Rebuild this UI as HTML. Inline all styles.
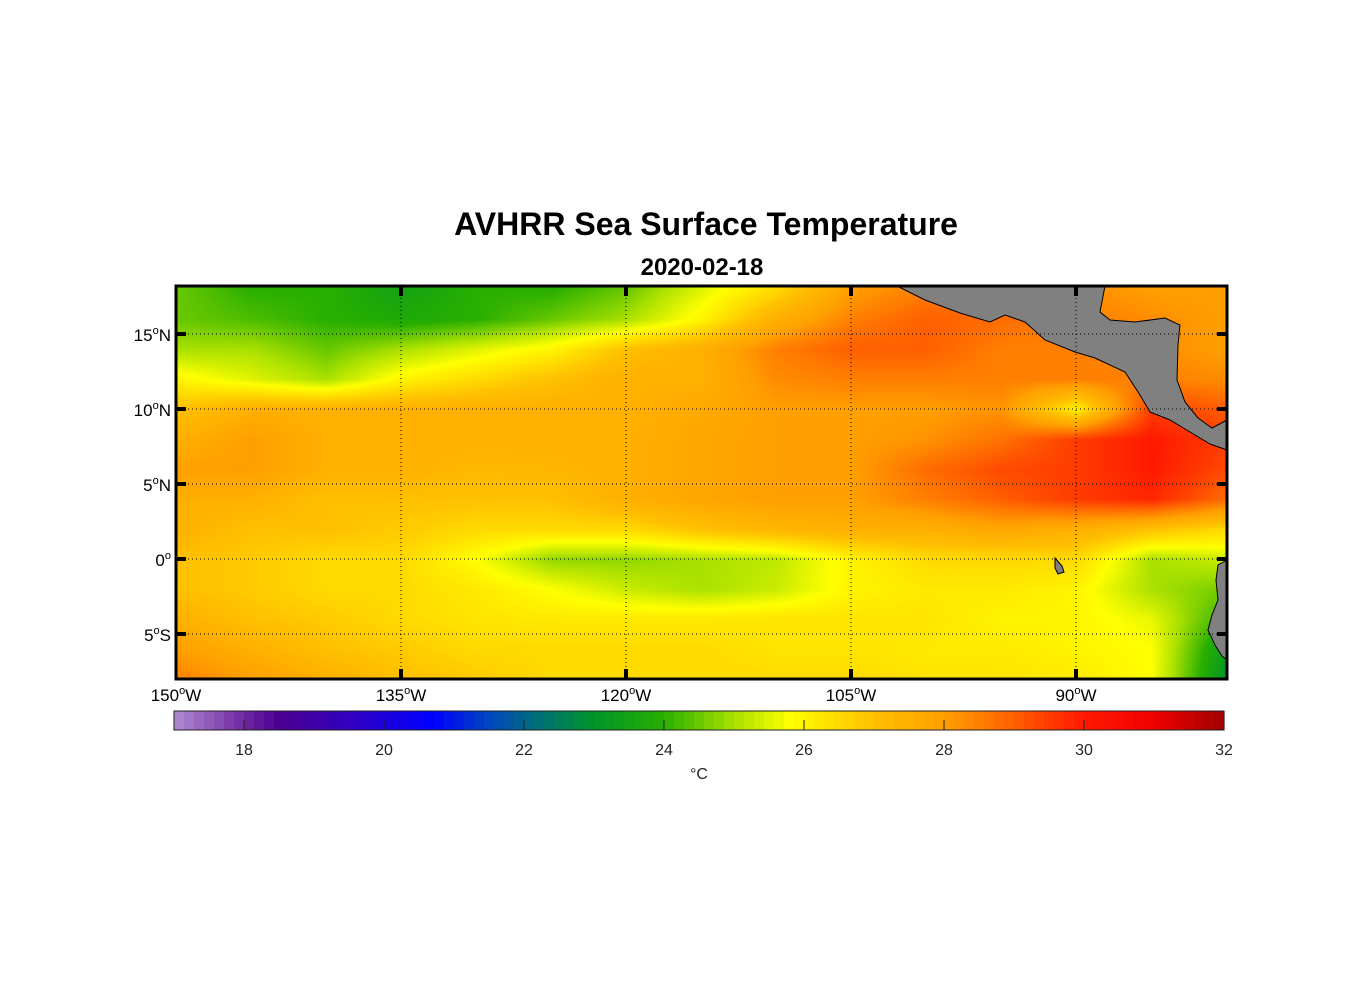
<!DOCTYPE html>
<html><head><meta charset="utf-8"><style>
html,body{margin:0;padding:0;background:#fff;width:1356px;height:1000px;overflow:hidden;font-family:"Liberation Sans",Arial,sans-serif}
#wrap{position:relative;width:1356px;height:1000px}
canvas{position:absolute}
svg{position:absolute;left:0;top:0}
</style></head><body>
<div id="wrap">
<canvas id="map" width="1051" height="393" style="left:176px;top:286px"></canvas>
<svg id="ov" width="1356" height="1000"></svg>
</div>
<script>
const lons=[150,145,140,135,130,125,120,115,110,105,100,95,90,85,80];
const lats=[18,16,14,12,10,8,6,4,2,0,-2,-4,-6,-8];
const sst=[
[24.5,24,24,23.5,24,24,24.5,25.5,26.5,28,28.5,28.5,28.3,28,28],
[24.5,24.3,24,23.8,24,24.5,25,26,27.5,28.5,29,28.8,28.5,28.3,28],
[25,25,24.5,25,25.5,26,27,27.5,28.5,29,29,28.5,28.5,28.3,28],
[26,25.5,25,26,26.5,27,27.5,27.5,28.3,28.5,28.5,28.5,28.5,28.5,28.3],
[27,27.5,27.5,27.5,27.5,27.5,27.5,27.7,28,28,28,28.2,26,29.5,29],
[27.5,28,27.5,27.5,27.5,27.5,27.5,27.8,28,28,28.2,28.7,29.5,30,29.5],
[28,28,27.5,27.5,27.2,27.3,27.5,27.8,28,28,28.8,29.3,29.5,30,29.3],
[27.5,27.5,27,27,27,27,27.5,27.8,28,28,28.5,29,29.5,29.8,28.8],
[27.5,27,27,26.8,26.5,26.5,26.5,27,27.3,27.5,27.5,27.8,27.5,27,26.5],
[27,26.8,26.5,26.5,25.8,24.8,24.8,25,25.2,26,26.5,26.5,26.5,25,25.3],
[27,26.8,26.5,26.5,26.2,25.8,25.3,25,25.3,26,26.2,26.2,26,25,24.6],
[27.5,27,26.8,26.5,26.3,26.2,26.2,26.2,26.3,26.3,26.3,26,26,25.6,24],
[28,27.5,27,26.8,26.5,26.5,26.5,26.5,26.3,26.3,26.2,26.2,26,25.8,23.3],
[28.5,28,27.5,27,26.8,26.5,26.5,26.5,26.5,26.5,26.3,26.3,26.2,25.8,23]];
const xTicks=[150,135,120,105,90];
const yTicks=[15,10,5,0,-5];
const cbTicks=[18,20,22,24,26,28,30,32];
const cmin=17,cmax=32;
const stops=[[17,[178,140,210]],[18,[110,40,160]],[18.5,[75,0,145]],[19.5,[50,0,190]],[20.7,[0,0,255]],[21.5,[0,70,190]],[22.2,[0,110,120]],[23,[0,150,40]],[24,[40,175,0]],[25,[170,225,0]],[25.8,[255,255,0]],[27,[255,192,0]],[28,[255,160,0]],[29,[255,95,0]],[30,[255,25,0]],[31,[240,0,0]],[32,[160,0,0]]];
function cmap(v){if(v<=stops[0][0])return stops[0][1];for(let i=1;i<stops.length;i++){if(v<=stops[i][0]){const a=stops[i-1],b=stops[i],t=(v-a[0])/(b[0]-a[0]);return a[1].map((c,k)=>Math.round(c+(b[1][k]-c)*t));}}return stops[stops.length-1][1];}
const X0=176,X1=1227,Y0=286,Y1=679;
const xs=lon=>176+(150-lon)*15;
const ys=lat=>559-lat*15;
const cbx=v=>174+(v-cmin)*70;
const cv=document.getElementById('map'),ctx=cv.getContext('2d');
const img=ctx.createImageData(1051,393);
for(let py=0;py<393;py++){const lat=(559-(py+286))/15;let fy=(18-lat)/2;fy=Math.max(0,Math.min(lats.length-1.0001,fy));const r=Math.floor(fy),ty=fy-r;
for(let px=0;px<1051;px++){const lon=150-(px)/15;let fx=(150-lon)/5;fx=Math.max(0,Math.min(lons.length-1.0001,fx));const c=Math.floor(fx),tx=fx-c;
const v=sst[r][c]*(1-tx)*(1-ty)+sst[r][c+1]*tx*(1-ty)+sst[r+1][c]*(1-tx)*ty+sst[r+1][c+1]*tx*ty;
const col=cmap(v),i=(py*1051+px)*4;img.data[i]=col[0];img.data[i+1]=col[1];img.data[i+2]=col[2];img.data[i+3]=255;}}
ctx.putImageData(img,0,0);
const NS='http://www.w3.org/2000/svg',svg=document.getElementById('ov');
function el(t,a,txt){const e=document.createElementNS(NS,t);for(const k in a)e.setAttribute(k,a[k]);if(txt!==undefined)e.innerHTML=txt;svg.appendChild(e);return e;}
let e;
e=el('polygon',{points:'897,286 925,300 960,313 990,322 1005,315 1025,322 1045,340 1075,352 1095,358 1125,372 1140,395 1150,412 1170,420 1190,432 1210,444 1227,450 1227,420 1212,428 1198,418 1185,402 1177,380 1178,345 1180,325 1165,318 1135,322 1110,320 1100,312 1105,286',fill:'#808080',stroke:'#000','stroke-width':1});

e=el('polygon',{points:'1227,560 1218,565 1216,580 1218,600 1212,615 1208,630 1215,645 1222,656 1227,660',fill:'#808080',stroke:'#000','stroke-width':1});

e=el('polygon',{points:'1055,558 1062,566 1064,572 1058,574 1055,568',fill:'#808080',stroke:'#000','stroke-width':1});

xTicks.forEach(l=>{const x=xs(l);
if(l<150){e=el('line',{x1:x,y1:Y0,x2:x,y2:Y1,stroke:'#000','stroke-width':1,'stroke-dasharray':'1,3'});
el('line',{x1:x,y1:Y0,x2:x,y2:Y0+10,stroke:'#000','stroke-width':4});el('line',{x1:x,y1:Y1,x2:x,y2:Y1-10,stroke:'#000','stroke-width':4});}
e=el('text',{x:x,y:701,'text-anchor':'middle','font-size':17,fill:'#000'},l+'<tspan dy="-7" font-size="11">o</tspan><tspan dy="7">W</tspan>');
});
yTicks.forEach(l=>{const y=ys(l);
e=el('line',{x1:X0,y1:y,x2:X1,y2:y,stroke:'#000','stroke-width':1,'stroke-dasharray':'1,3'});
el('line',{x1:X0,y1:y,x2:X0+10,y2:y,stroke:'#000','stroke-width':4});el('line',{x1:X1,y1:y,x2:X1-10,y2:y,stroke:'#000','stroke-width':4});
const h=l>0?'N':(l<0?'S':'');
e=el('text',{x:171,y:y+7,'text-anchor':'end','font-size':17,fill:'#000'},Math.abs(l)+'<tspan dy="-7" font-size="11">o</tspan><tspan dy="7">'+h+'</tspan>');
});
e=el('rect',{x:X0,y:Y0,width:X1-X0,height:Y1-Y0,fill:'none',stroke:'#000','stroke-width':3});

e=el('text',{x:706,y:235,'text-anchor':'middle','font-size':32,'font-weight':'bold',fill:'#000'},'AVHRR Sea Surface Temperature');

e=el('text',{x:702,y:275,'text-anchor':'middle','font-size':24,'font-weight':'bold',fill:'#000'},'2020-02-18');

const nseg=105;
for(let i=0;i<nseg;i++){const v0=cmin+(cmax-cmin)*i/nseg,v1=cmin+(cmax-cmin)*(i+1)/nseg;const c=cmap((v0+v1)/2);
e=el('rect',{x:cbx(v0),y:711,width:cbx(v1)-cbx(v0)+0.6,height:19,fill:'rgb('+c.join(',')+')'});
}
e=el('rect',{x:174,y:711,width:1050,height:19,fill:'none',stroke:'#222','stroke-width':1});

cbTicks.forEach(v=>{const x=cbx(v);el('line',{x1:x,y1:730,x2:x,y2:720,stroke:'#222','stroke-width':1});
e=el('text',{x:x,y:755,'text-anchor':'middle','font-size':16,fill:'#262626'},v);
});
e=el('text',{x:699,y:779,'text-anchor':'middle','font-size':16,fill:'#262626'},'°C');

</script>
</body></html>
